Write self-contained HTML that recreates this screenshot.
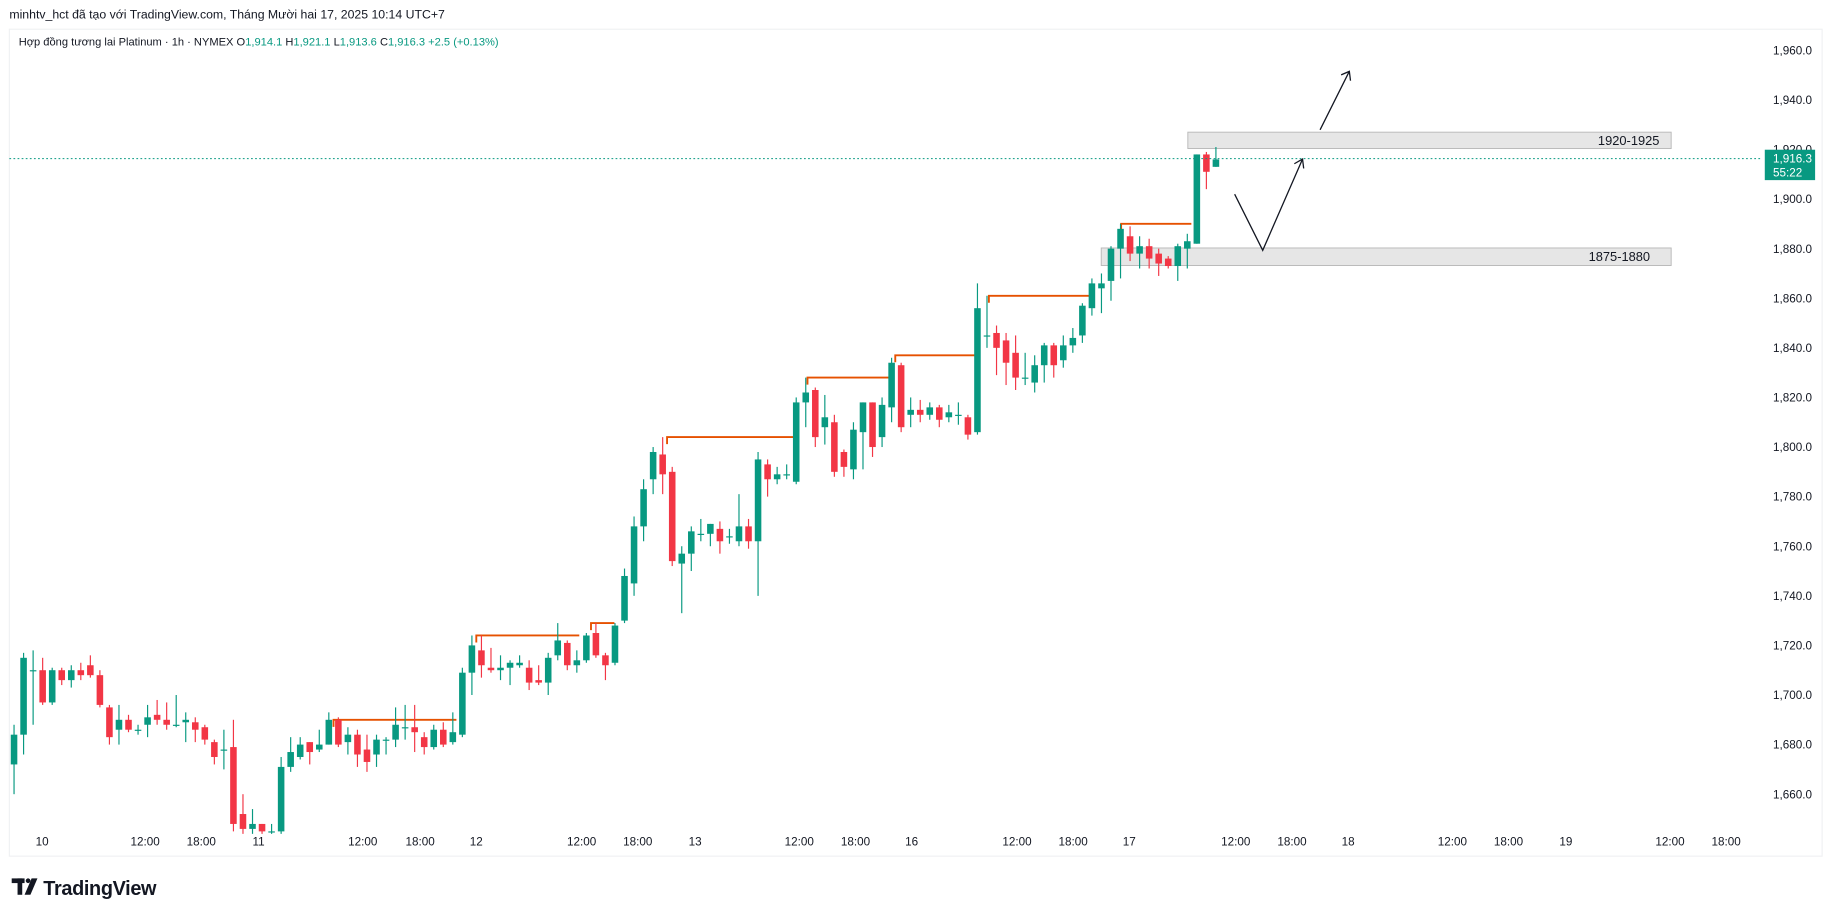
<!DOCTYPE html>
<html><head><meta charset="utf-8"><style>
html,body{margin:0;padding:0;background:#fff;width:1835px;height:917px;overflow:hidden}
svg{display:block}
text{font-family:"Liberation Sans","DejaVu Sans",sans-serif}
</style></head><body>
<svg id="s" width="1835" height="917" viewBox="0 0 1568 784" preserveAspectRatio="none" xmlns="http://www.w3.org/2000/svg">
<rect x="0" y="0" width="1568" height="784" fill="#fff"/>
<rect x="8" y="25" width="1549" height="707" fill="#fff" stroke="#f0f1f3"/>
<text x="8" y="16" font-size="10.5" fill="#131722">minhtv_hct đã tạo với TradingView.com, Tháng Mười hai 17, 2025 10:14 UTC+7</text>
<text x="16" y="39" font-size="9.5" fill="#131722">Hợp đồng tương lai Platinum · 1h · NYMEX  <tspan fill="#131722">O</tspan><tspan fill="#089981">1,914.1</tspan>  H<tspan fill="#089981">1,921.1</tspan>  L<tspan fill="#089981">1,913.6</tspan>  C<tspan fill="#089981">1,916.3</tspan>  <tspan fill="#089981">+2.5 (+0.13%)</tspan></text>
<g id="grid"></g>
<g id="axis" font-size="10" fill="#131722"></g>
<rect x="1015" y="113" width="413" height="14" fill="#e6e6e6" stroke="#b8b8b8" stroke-width="0.8"/>
<text x="1418" y="124" font-size="11" text-anchor="end" fill="#131722">1920-1925</text>
<rect x="941" y="212" width="487" height="15" fill="#e6e6e6" stroke="#b8b8b8" stroke-width="0.8"/>
<text x="1410" y="223" font-size="11" text-anchor="end" fill="#131722">1875-1880</text>
<g id="lv" stroke="#e65100" stroke-width="1.6" fill="none"></g>
<g id="c"></g>
<line x1="8" y1="135.6" x2="1505" y2="135.6" stroke="#089981" stroke-width="0.8" stroke-dasharray="1.5,2"/>
<g stroke="#131722" stroke-width="1.1" fill="none">
<polyline points="1055,166 1079,214 1113,136"/>
<polyline points="1106,140 1113,136 1114,144"/>
<line x1="1128" y1="111" x2="1153" y2="61"/>
<polyline points="1146,64 1153,61 1154,69"/>
</g>
<rect x="1508" y="128" width="43" height="26" fill="#089981"/>
<text x="1515" y="139" font-size="10" fill="#fff">1,916.3</text>
<text x="1515" y="151" font-size="10" fill="#fff">55:22</text>
<g fill="#131722">
<rect x="10" y="751" width="11" height="4"/>
<rect x="15" y="751" width="4" height="14"/>
<circle cx="24" cy="753" r="2"/>
<polygon points="27,751 32,751 26,765 21,765"/>
</g>
<text x="37" y="765" font-size="17" font-weight="bold" fill="#131722" letter-spacing="-0.3">TradingView</text>
</svg>
<script>
var NS="http://www.w3.org/2000/svg";
function Y(p){return 43+(1960-p)*2.12;}
function el(t,a,par){var e=document.createElementNS(NS,t);for(var k in a)e.setAttribute(k,a[k]);document.getElementById(par).appendChild(e);return e;}
for(var p=1660;p<=1960;p+=20){var t=el("text",{x:1515,y:Y(p)+3.5},"axis");t.textContent=(p+"").replace(/^(\d)/,"$1,")+".0";}
var tl=[[36,"10"],[124,"12:00"],[172,"18:00"],[221,"11"],[310,"12:00"],[359,"18:00"],[407,"12"],[497,"12:00"],[545,"18:00"],[594,"13"],[683,"12:00"],[731,"18:00"],[779,"16"],[869,"12:00"],[917,"18:00"],[965,"17"],[1056,"12:00"],[1104,"18:00"],[1152,"18"],[1241,"12:00"],[1289,"18:00"],[1338,"19"],[1427,"12:00"],[1475,"18:00"]];
tl.forEach(function(a){var t=el("text",{x:a[0],y:723,"text-anchor":"middle"},"axis");t.textContent=a[1];});
var d=[[1672,1684,1688,1660],[1684,1715,1717,1676],[1710,1710,1718,1688],[1710,1697,1715,1696],[1697,1710,1711,1696],[1710,1706,1711,1704],[1706,1710,1712,1703],[1710,1708,1713,1706],[1712,1708,1716,1707],[1708,1696,1710,1695],[1695,1683,1696,1680],[1686,1690,1696,1680],[1690,1686,1692,1685],[1686,1686,1688,1684],[1688,1691,1696,1683],[1692,1690,1698,1688],[1690,1688,1697,1686],[1688,1688,1700,1687],[1689,1690,1693,1681],[1689,1686,1691,1681],[1687,1682,1688,1680],[1681,1675,1682,1672],[1678,1678,1686,1670],[1679,1648,1690,1645],[1652,1646,1660,1644],[1646,1648,1654,1644],[1648,1645,1648,1644],[1645,1645,1648,1644],[1645,1671,1675,1644],[1671,1677,1683,1669],[1675,1680,1683,1674],[1681,1677,1681,1672],[1678,1680,1686,1677],[1680,1690,1693,1680],[1690,1680,1691,1679],[1681,1684,1687,1676],[1684,1676,1686,1671],[1678,1673,1684,1669],[1676,1682,1684,1671],[1682,1682,1683,1676],[1682,1688,1695,1679],[1687,1687,1696,1682],[1687,1685,1696,1677],[1683,1679,1685,1676],[1679,1686,1688,1678],[1686,1680,1689,1679],[1681,1685,1693,1680],[1684,1709,1711,1683],[1709,1720,1724,1700],[1718,1712,1724,1707],[1711,1710,1719,1709],[1710,1711,1716,1706],[1711,1713,1714,1704],[1712,1713,1716,1711],[1711,1705,1714,1702],[1706,1705,1712,1704],[1705,1715,1717,1700],[1716,1722,1729,1714],[1721,1712,1722,1710],[1712,1714,1718,1709],[1714,1724,1725,1713],[1725,1716,1729,1715],[1716,1712,1717,1706],[1713,1728,1729,1712],[1730,1748,1751,1729],[1745,1768,1772,1740],[1768,1783,1787,1762],[1787,1798,1800,1781],[1797,1789,1804,1781],[1790,1754,1792,1752],[1753,1757,1760,1733],[1757,1766,1768,1750],[1765,1765,1771,1762],[1765,1769,1769,1760],[1767,1762,1770,1757],[1764,1764,1767,1761],[1762,1768,1781,1760],[1768,1762,1771,1759],[1762,1795,1798,1740],[1793,1787,1795,1780],[1787,1789,1792,1785],[1789,1789,1793,1787],[1786,1818,1820,1785],[1818,1822,1828,1808],[1823,1804,1824,1800],[1808,1812,1821,1801],[1810,1790,1813,1788],[1798,1792,1799,1788],[1791,1807,1810,1787],[1806,1818,1818,1791],[1818,1800,1818,1796],[1804,1817,1820,1800],[1816,1834,1836,1810],[1833,1808,1834,1806],[1813,1815,1820,1808],[1815,1813,1819,1810],[1813,1816,1818,1811],[1816,1811,1817,1808],[1812,1814,1817,1810],[1813,1813,1818,1809],[1812,1805,1813,1803],[1806,1856,1866,1805],[1845,1845,1861,1840],[1846,1840,1849,1829],[1843,1834,1846,1825],[1838,1828,1845,1823],[1828,1828,1838,1825],[1826,1833,1837,1822],[1833,1841,1842,1826],[1841,1833,1842,1828],[1835,1841,1845,1832],[1841,1844,1848,1838],[1845,1857,1858,1842],[1856,1866,1868,1853],[1864,1866,1870,1854],[1867,1880,1881,1859],[1880,1888,1890,1868],[1885,1878,1889,1875],[1878,1881,1885,1872],[1881,1876,1884,1872],[1878,1874,1880,1869],[1876,1873,1877,1872],[1873,1881,1882,1867],[1880,1883,1886,1872],[1882,1918,1918,1882],[1918,1911,1919,1904],[1913,1916,1921,1913]];
var n=d.length,x0=12,x1=1039,sp=(x1-x0)/(n-1);
d.forEach(function(b,i){var x=x0+i*sp,o=b[0],c=b[1],up=c>=o,col=up?"#089981":"#f23645";
el("line",{x1:x,x2:x,y1:Y(b[2]),y2:Y(b[3]),stroke:col,"stroke-width":1},"c");
var t=Y(Math.max(o,c)),h=Math.max(Y(Math.min(o,c))-t,1);
el("rect",{x:x-2.8,y:t,width:5.6,height:h,fill:col},"c");});
var lv=[[285,390,1690],[407,495,1724],[505,525,1729],[570,682,1804],[690,762,1828],[765,833,1837],[845,935,1861],[958,1018,1890]];
lv.forEach(function(a){el("polyline",{points:a[0]+","+(Y(a[2])+6)+" "+a[0]+","+Y(a[2])+" "+a[1]+","+Y(a[2])},"lv");});
</script>
</body></html>
